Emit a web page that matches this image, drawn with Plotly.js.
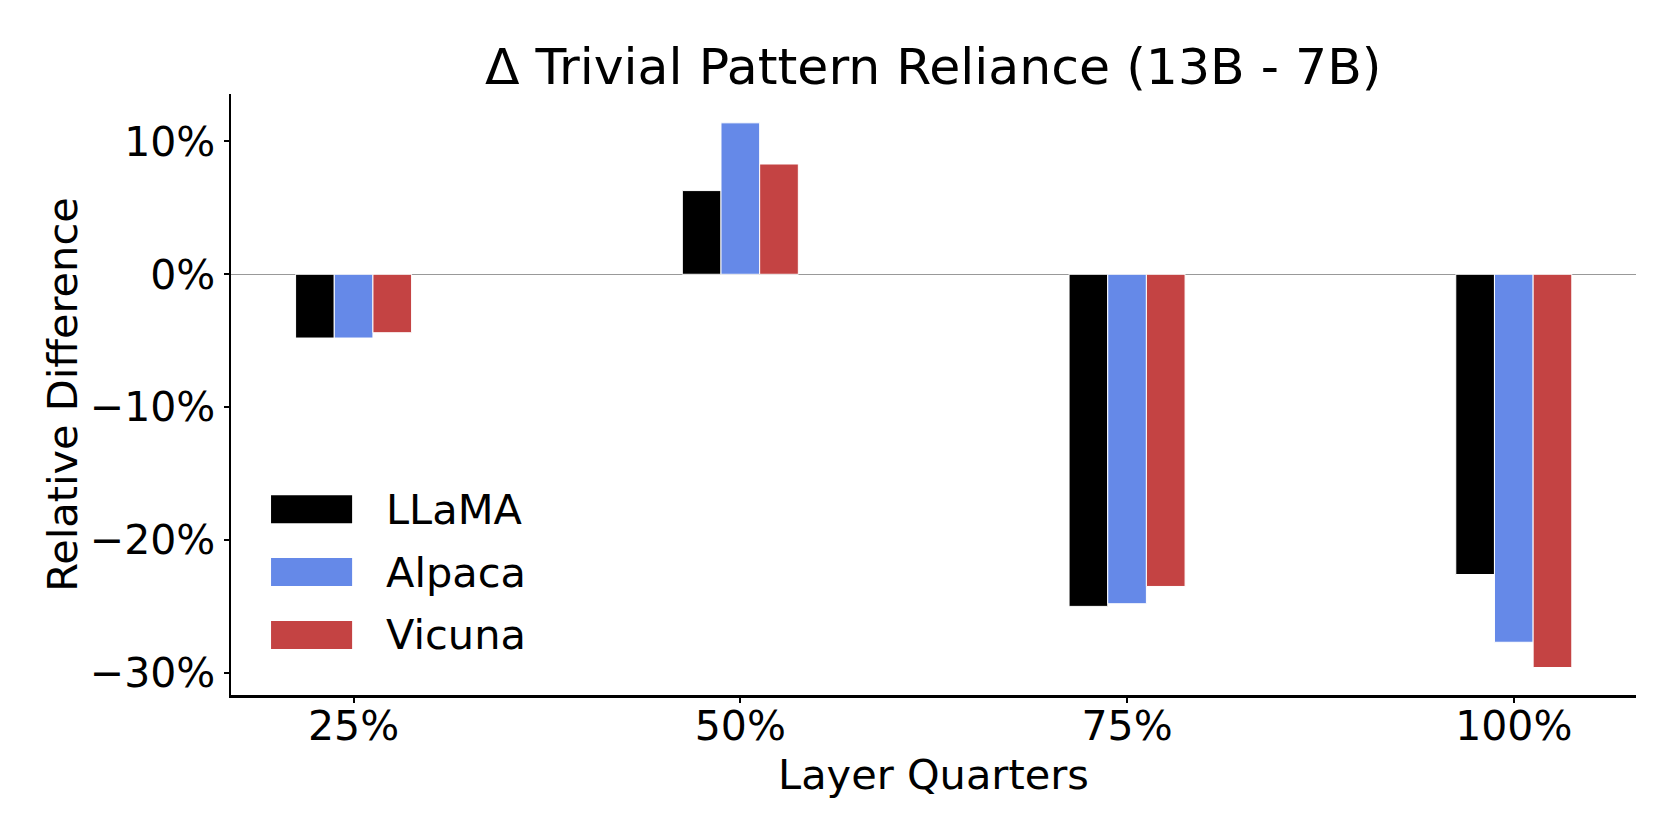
<!DOCTYPE html>
<html>
<head>
<meta charset="utf-8">
<script src="https://cdn.plot.ly/plotly-3.0.1.min.js"></script>
<style>
  html,body{margin:0;padding:0;background:#fff;}
  #chart{width:1680px;height:840px;}
</style>
</head>
<body>
<div id="chart"></div>
<script>
// values, in percent
const quarters=['25%','50%','75%','100%'];
const models=['LLaMA','Alpaca','Vicuna'];
const colors=['#000000','#6589E8','#C44343'];
const llama=[-4.8,6.3,-25.0,-22.6];
const alpaca=[-4.8,11.4,-24.8,-27.7];
const vicuna=[-4.4,8.3,-23.5,-29.6];
const yTicks=[-30,-20,-10,0,10];
const yTickText=['\u221230%','\u221220%','\u221210%','0%','10%'];

const series=[llama,alpaca,vicuna];
const FONT='DejaVu Sans, sans-serif';

const traces=series.map((vals,i)=>({
  type:'bar', x:quarters, y:vals, name:models[i],
  marker:{color:colors[i],line:{color:'#ffffff',width:1}},
  showlegend:false, hoverinfo:'x+y+name'
}));

// legend drawn by hand: wide swatches like the source figure
const legShapes=[], legNotes=[];
const legTop=0.309, legStep=0.1045;
models.forEach((m,i)=>{
  const yc=legTop-i*legStep;
  legShapes.push({type:'rect',xref:'paper',yref:'paper',x0:0.0285,x1:0.0862,y0:yc-0.0233,y1:yc+0.0233,
    fillcolor:colors[i],line:{width:0}});
  legNotes.push({xref:'paper',yref:'paper',x:0.109,y:yc,text:m,showarrow:false,xanchor:'left',yanchor:'middle',
    font:{family:FONT,size:41.5,color:'#000'}});
});

const layout={
  width:1680, height:840,
  paper_bgcolor:'#fff', plot_bgcolor:'#fff',
  margin:{l:231,r:44,t:94,b:145},
  font:{family:FONT,color:'#000'},
  title:{text:'\u0394 Trivial Pattern Reliance (13B - 7B)',font:{family:FONT,size:50.5,color:'#000'},
    x:0.5555,xanchor:'center',y:0.921,yanchor:'middle'},
  barmode:'group', bargap:0.7, bargroupgap:0,
  xaxis:{type:'category',range:[-0.317,3.316],showgrid:false,zeroline:false,
    showline:true,linecolor:'#000',linewidth:2.5,
    ticks:'outside',ticklen:5,tickwidth:2,tickcolor:'#000',ticklabelstandoff:-12,
    tickfont:{family:FONT,size:41,color:'#000'},
    title:{text:'Layer Quarters',font:{family:FONT,size:41.5,color:'#000'},standoff:6}},
  yaxis:{range:[-31.67,13.57],showgrid:false,
    zeroline:true,zerolinecolor:'#999999',zerolinewidth:1,
    showline:true,linecolor:'#000',linewidth:2.5,
    tickvals:yTicks,ticktext:yTickText,
    ticks:'outside',ticklen:5,tickwidth:2,tickcolor:'#000',
    tickfont:{family:FONT,size:41,color:'#000'},
    title:{text:'Relative Difference',font:{family:FONT,size:41.5,color:'#000'},standoff:0}},
  shapes:legShapes,
  annotations:legNotes
};

Plotly.newPlot('chart',traces,layout,{displayModeBar:false,staticPlot:true});
</script>
</body>
</html>
